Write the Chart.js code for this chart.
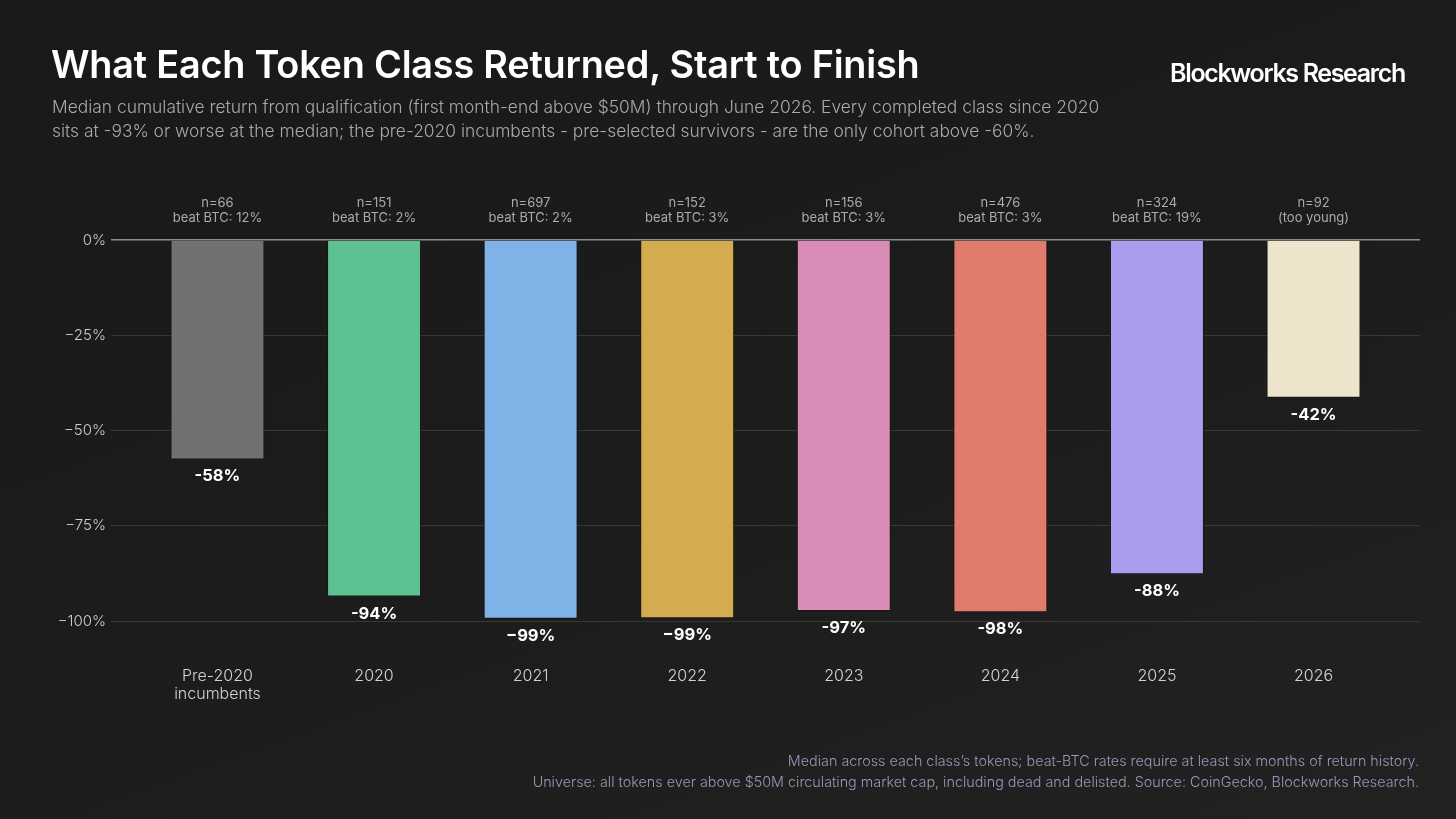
<!DOCTYPE html>
<html>
<head>
<meta charset="utf-8">
<script src="https://cdn.jsdelivr.net/npm/chart.js@4.4.1/dist/chart.umd.min.js"></script>
<style>
  html, body { margin: 0; padding: 0; }
  body {
    width: 1456px; height: 819px; overflow: hidden; position: relative;
    background: linear-gradient(160deg, #191919 0%, #1c1c1c 55%, #222222 100%);
    font-family: Inter, "Noto Sans", sans-serif;
  }
  #title {
    position: absolute; left: 51px; top: 41px; margin: 0;
    font-size: 37.8px; font-weight: 600; color: #ffffff; letter-spacing: -0.2px;
    white-space: nowrap;
  }
  #brand {
    position: absolute; right: 51px; top: 58px;
    font-size: 25px; font-weight: 600; color: #ffffff; letter-spacing: -1.35px;
    white-space: nowrap;
  }
  #subtitle {
    position: absolute; left: 52px; top: 95px; margin: 0;
    font-size: 17.4px; font-weight: 300; color: #a9a9a9; line-height: 24px;
    white-space: nowrap;
  }
  #footer {
    position: absolute; right: 37px; top: 750px; text-align: right;
    font-size: 14.35px; font-weight: 300; color: #9c97b9; line-height: 21px;
    white-space: nowrap;
  }
  #wrap { position: absolute; left: 0; top: 0; width: 1456px; height: 819px; }
</style>
</head>
<body>
<div id="wrap"><canvas id="chart"></canvas></div>
<h1 id="title">What Each Token Class Returned, Start to Finish</h1>
<div id="brand">Blockworks Research</div>
<p id="subtitle">Median cumulative return from qualification (first month-end above $50M) through June 2026. Every completed class since 2020<br>sits at -93% or worse at the median; the pre-2020 incumbents - pre-selected survivors - are the only cohort above -60%.</p>
<div id="footer">Median across each class’s tokens; beat-BTC rates require at least six months of return history.<br>Universe: all tokens ever above $50M circulating market cap, including dead and delisted. Source: CoinGecko, Blockworks Research.</div>

<script>
// cohort data
const categories = ['Pre-2020\nincumbents', '2020', '2021', '2022', '2023', '2024', '2025', '2026'];
const medianReturns = [-57.6, -93.6, -99.4, -99.3, -97.4, -97.7, -87.7, -41.4];
const valueLabels = ['-58%', '-94%', '−99%', '−99%', '-97%', '-98%', '-88%', '-42%'];
const sampleSizes = [66, 151, 697, 152, 156, 476, 324, 92];
const beatBtcRates = [12, 2, 2, 3, 3, 3, 19, null];
const barColors = ['#717171', '#5ec192', '#7fb3e7', '#d5ab4f', '#d98cb6', '#e17c6d', '#a99df0', '#ece5cc'];
const yTicks = [0, -25, -50, -75, -100];
const yTickLabels = ['0%', '−25%', '−50%', '−75%', '−100%'];

const FONT = 'Inter, "Noto Sans", sans-serif';

// draws n= / beat BTC above each bar and the value under each bar
const barNotes = {
  id: 'barNotes',
  afterDatasetsDraw(chart) {
    const ctx = chart.ctx;
    const top = chart.chartArea.top;
    const meta = chart.getDatasetMeta(0);
    ctx.save();
    ctx.textAlign = 'center';
    ctx.textBaseline = 'middle';
    meta.data.forEach((bar, i) => {
      ctx.fillStyle = '#ababab';
      ctx.font = '400 13px ' + FONT;
      ctx.fillText('n=' + sampleSizes[i], bar.x, top - 37);
      const second = beatBtcRates[i] === null ? '(too young)' : 'beat BTC: ' + beatBtcRates[i] + '%';
      ctx.fillText(second, bar.x, top - 22);

      ctx.fillStyle = '#ffffff';
      ctx.font = '700 16.5px ' + FONT;
      ctx.fillText(valueLabels[i], bar.x, bar.y + 17);
    });
    ctx.restore();
  }
};

new Chart(document.getElementById('chart'), {
  type: 'bar',
  data: {
    datasets: [{
      data: medianReturns.map((v, i) => ({ x: i, y: v })),
      backgroundColor: barColors,
      borderColor: '#171717',
      borderWidth: 1,
      barPercentage: 0.6,
      categoryPercentage: 1
    }]
  },
  options: {
    responsive: true,
    maintainAspectRatio: false,
    animation: false,
    layout: { padding: { left: 0, right: 36, top: 240, bottom: 0 } },
    plugins: { legend: { display: false }, tooltip: { enabled: false } },
    scales: {
      x: {
        type: 'linear',
        offset: false,
        min: -0.68,
        max: 7.68,
        afterBuildTicks: (scale) => { scale.ticks = categories.map((c, i) => ({ value: i })); },
        afterFit: (scale) => { scale.height = 198; },
        grid: { display: false, drawTicks: false },
        border: { display: false },
        ticks: {
          autoSkip: false,
          maxRotation: 0,
          padding: 46,
          color: '#d2d2d2',
          font: { family: FONT, size: 16, weight: '300', lineHeight: 1.15 },
          callback: (v) => categories[v] ? categories[v].split('\n') : ''
        }
      },
      y: {
        min: -100,
        max: 0,
        afterBuildTicks: (scale) => { scale.ticks = yTicks.map(v => ({ value: v })); },
        afterFit: (scale) => { scale.width = 111; },
        grid: {
          drawTicks: false,
          color: (c) => c.tick && c.tick.value === 0 ? '#8c8c8c' : '#383838',
          lineWidth: (c) => c.tick && c.tick.value === 0 ? 1.5 : 1
        },
        border: { display: false },
        ticks: {
          padding: 5,
          color: '#cfcfcf',
          font: { family: FONT, size: 15, weight: '300' },
          callback: (v) => yTickLabels[yTicks.indexOf(v)]
        }
      }
    }
  },
  plugins: [barNotes]
});
</script>
</body>
</html>
